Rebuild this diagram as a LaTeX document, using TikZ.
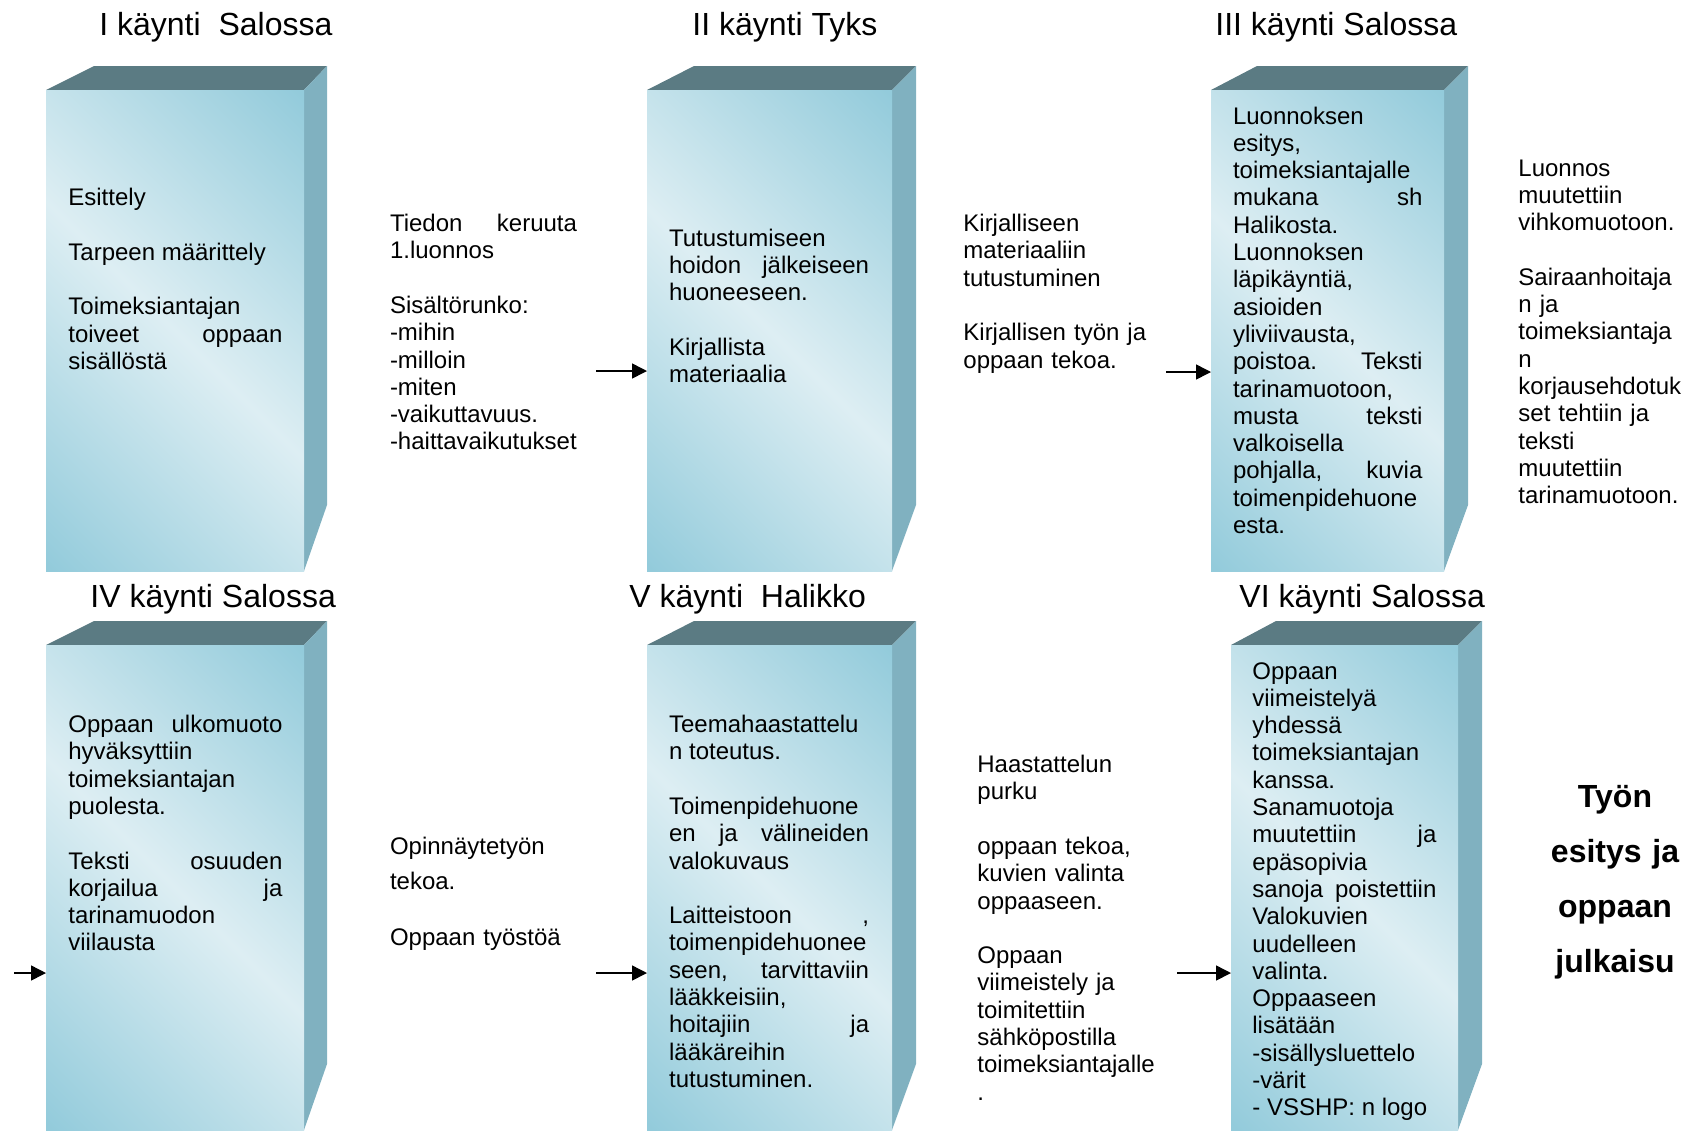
\documentclass[tikz,border=0pt]{standalone}
\usepackage{fontspec}
\setmainfont{Liberation Sans}
\usetikzlibrary{arrows.meta}
\definecolor{kansi}{HTML}{5B7B83}
\definecolor{kylki}{HTML}{80B1C0}
\definecolor{vaalea}{HTML}{DDEEF3}
\definecolor{sininen}{HTML}{93CBDB}
\pgfdeclarehorizontalshading{pinta}{100bp}{color(0bp)=(sininen); color(15bp)=(sininen); color(50bp)=(vaalea); color(85bp)=(sininen); color(100bp)=(sininen)}
\tolerance=10000 \hbadness=10000 \hyphenpenalty=10000
\def\laatikko(#1,#2,#3,#4)(#5,#6){%
  \fill[kansi] (#1,#5) -- (#3,#5-24) -- (#4,#5-24) -- (#2,#5) -- cycle;
  \fill[kylki] (#2,#5) -- (#4,#5-24) -- (#4,#6-66) -- (#2,#6) -- cycle;
  \shade[shading=pinta, shading angle=45] (#1,#5) rectangle (#2,#6);}

\begin{document}
\begin{tikzpicture}[x=0.5pt, y=-0.5pt,
    otsikko/.style={anchor=base west, inner sep=0pt, font=\fontsize{16}{19}\selectfont},
    laatikkoteksti/.style={anchor=base west, inner sep=0pt, text width=#1, align=justify, font=\fontsize{12}{13.65}\selectfont},
    vapaateksti/.style={anchor=base west, inner sep=0pt, text width=#1, align=left, font=\fontsize{12}{13.65}\selectfont},
    nuoli/.style={line width=0.75pt, -{Triangle[length=7.5pt, width=7.5pt]}}]
		%%%%% START %%%%%
		\useasboundingbox (0,0) rectangle (1685,1130);
		
		% ylarivi
		\laatikko(46,304,94,327)(90,571)
		\laatikko(647,892,694,916)(90,571)
		\laatikko(1211,1444,1257,1468)(90,571)
		
		% alarivi
		\laatikko(46,304,94,327)(645,1130)
		\laatikko(647,892,694,916)(645,1130)
		\laatikko(1231,1458,1276,1482)(645,1130)
		
		\node[otsikko] (o1) at (99, 35) {I käynti~ Salossa};
		\node[otsikko] (o2) at (692, 35) {II käynti Tyks};
		\node[otsikko] (o3) at (1215, 35) {III käynti Salossa};
		\node[otsikko] (o4) at (90, 607) {IV käynti Salossa};
		\node[otsikko] (o5) at (629, 607) {V käynti~ Halikko};
		\node[otsikko] (o6) at (1239, 607) {VI käynti Salossa};
		
		\node[laatikkoteksti=107pt] (t1) at (68, 205.6) {Esittely\\[13.65pt]
			Tarpeen määrittely\\[13.65pt]
			Toimeksiantajan\\ toiveet oppaan\linebreak sisällöstä};
		\node[laatikkoteksti=100pt] (t2) at (668.7, 246) {Tutustumiseen\\ hoidon jälkeiseen\linebreak huoneeseen.\\[13.65pt]
			Kirjallista\\ materiaalia};
		\node[laatikkoteksti=94.7pt] (t3) at (1232.6, 124) {Luonnoksen\\ esitys,\\ toimeksiantajalle\\ mukana sh\linebreak Halikosta.\\ Luonnoksen\\ läpikäyntiä,\\ asioiden\\ yliviivausta,\\ poistoa. Teksti\linebreak tarinamuotoon,\\ musta teksti\linebreak valkoisella\\ pohjalla, kuvia\linebreak toimenpidehuone\\ esta.};
		\node[laatikkoteksti=107pt] (t4) at (68, 732.5) {Oppaan ulkomuoto\linebreak hyväksyttiin\\ toimeksiantajan\\ puolesta.\\[13.65pt]
			Teksti osuuden\linebreak korjailua ja\linebreak tarinamuodon\\ viilausta};
		\node[laatikkoteksti=100pt] (t5) at (668.7, 732.5) {Teemahaastattelu\\ n toteutus.\\[13.65pt]
			Toimenpidehuone\\ en ja välineiden\linebreak valokuvaus\\[13.65pt]
			Laitteistoon ,\linebreak toimenpidehuonee\\ seen, tarvittaviin\linebreak lääkkeisiin,\\ hoitajiin ja\linebreak lääkäreihin\\ tutustuminen.};
		\node[laatikkoteksti=92pt] (t6) at (1252, 679) {Oppaan\\ viimeistelyä\\ yhdessä\\ toimeksiantajan\\ kanssa.\\ Sanamuotoja\\ muutettiin ja\linebreak epäsopivia\\ sanoja poistettiin\linebreak Valokuvien\\ uudelleen\\ valinta.\\ Oppaaseen\\ lisätään\\ -sisällysluettelo\\ -värit\\ - VSSHP: n logo};
		
		\node[laatikkoteksti=93.5pt] (v1) at (389.6, 231.5) {Tiedon keruuta\linebreak 1.luonnos\\[13.65pt]
			Sisältörunko:\\ -mihin\\ -milloin\\ -miten\\ -vaikuttavuus.\\ -haittavaikutukset};
		\node[vapaateksti=110pt] (v2) at (963, 231.5) {Kirjalliseen\\ materiaaliin\\ tutustuminen\\[13.65pt]
			Kirjallisen työn ja\\ oppaan tekoa.};
		\node[vapaateksti=90pt] (v3) at (1518, 176) {Luonnos\\ muutettiin\\ vihkomuotoon.\\[13.65pt]
			Sairaanhoitaja\\ n ja\\ toimeksiantaja\\ n\\ korjausehdotuk\\ set tehtiin ja\\ teksti\\ muutettiin\\ tarinamuotoon.};
		\node[vapaateksti=100pt] (v4) at (389.6, 854.6) {Opinnäytetyön\\[3.55pt] tekoa.\\[14.35pt] Oppaan työstöä};
		\node[vapaateksti=110pt] (v5) at (977, 772.5) {Haastattelun\\ purku\\[13.65pt]
			oppaan tekoa,\\ kuvien valinta\\ oppaaseen.\\[13.65pt]
			Oppaan\\ viimeistely ja\\ toimitettiin\\ sähköpostilla\\ toimeksiantajalle\\ .};
		\node[anchor=base, inner sep=0pt, text width=75pt, align=center, font=\bfseries\fontsize{16}{27.5}\selectfont] (v6) at (1615, 807.5) {Työn\\ esitys ja\\ oppaan\\ julkaisu};
		
		% nuolet
		\coordinate (a1) at (596, 371);
		\coordinate (b2) at (647, 371);
		\coordinate (a2) at (1166, 372);
		\coordinate (b3) at (1211, 372);
		\coordinate (a3) at (14, 973);
		\coordinate (b4) at (46, 973);
		\coordinate (a4) at (596, 973);
		\coordinate (b5) at (647, 973);
		\coordinate (a5) at (1177, 973);
		\coordinate (b6) at (1231, 973);
		\draw[nuoli] (a1) -- (b2);
		\draw[nuoli] (a2) -- (b3);
		\draw[nuoli] (a3) -- (b4);
		\draw[nuoli] (a4) -- (b5);
		\draw[nuoli] (a5) -- (b6);
		
		%%%%% END %%%%%
\end{tikzpicture}
\end{document}
